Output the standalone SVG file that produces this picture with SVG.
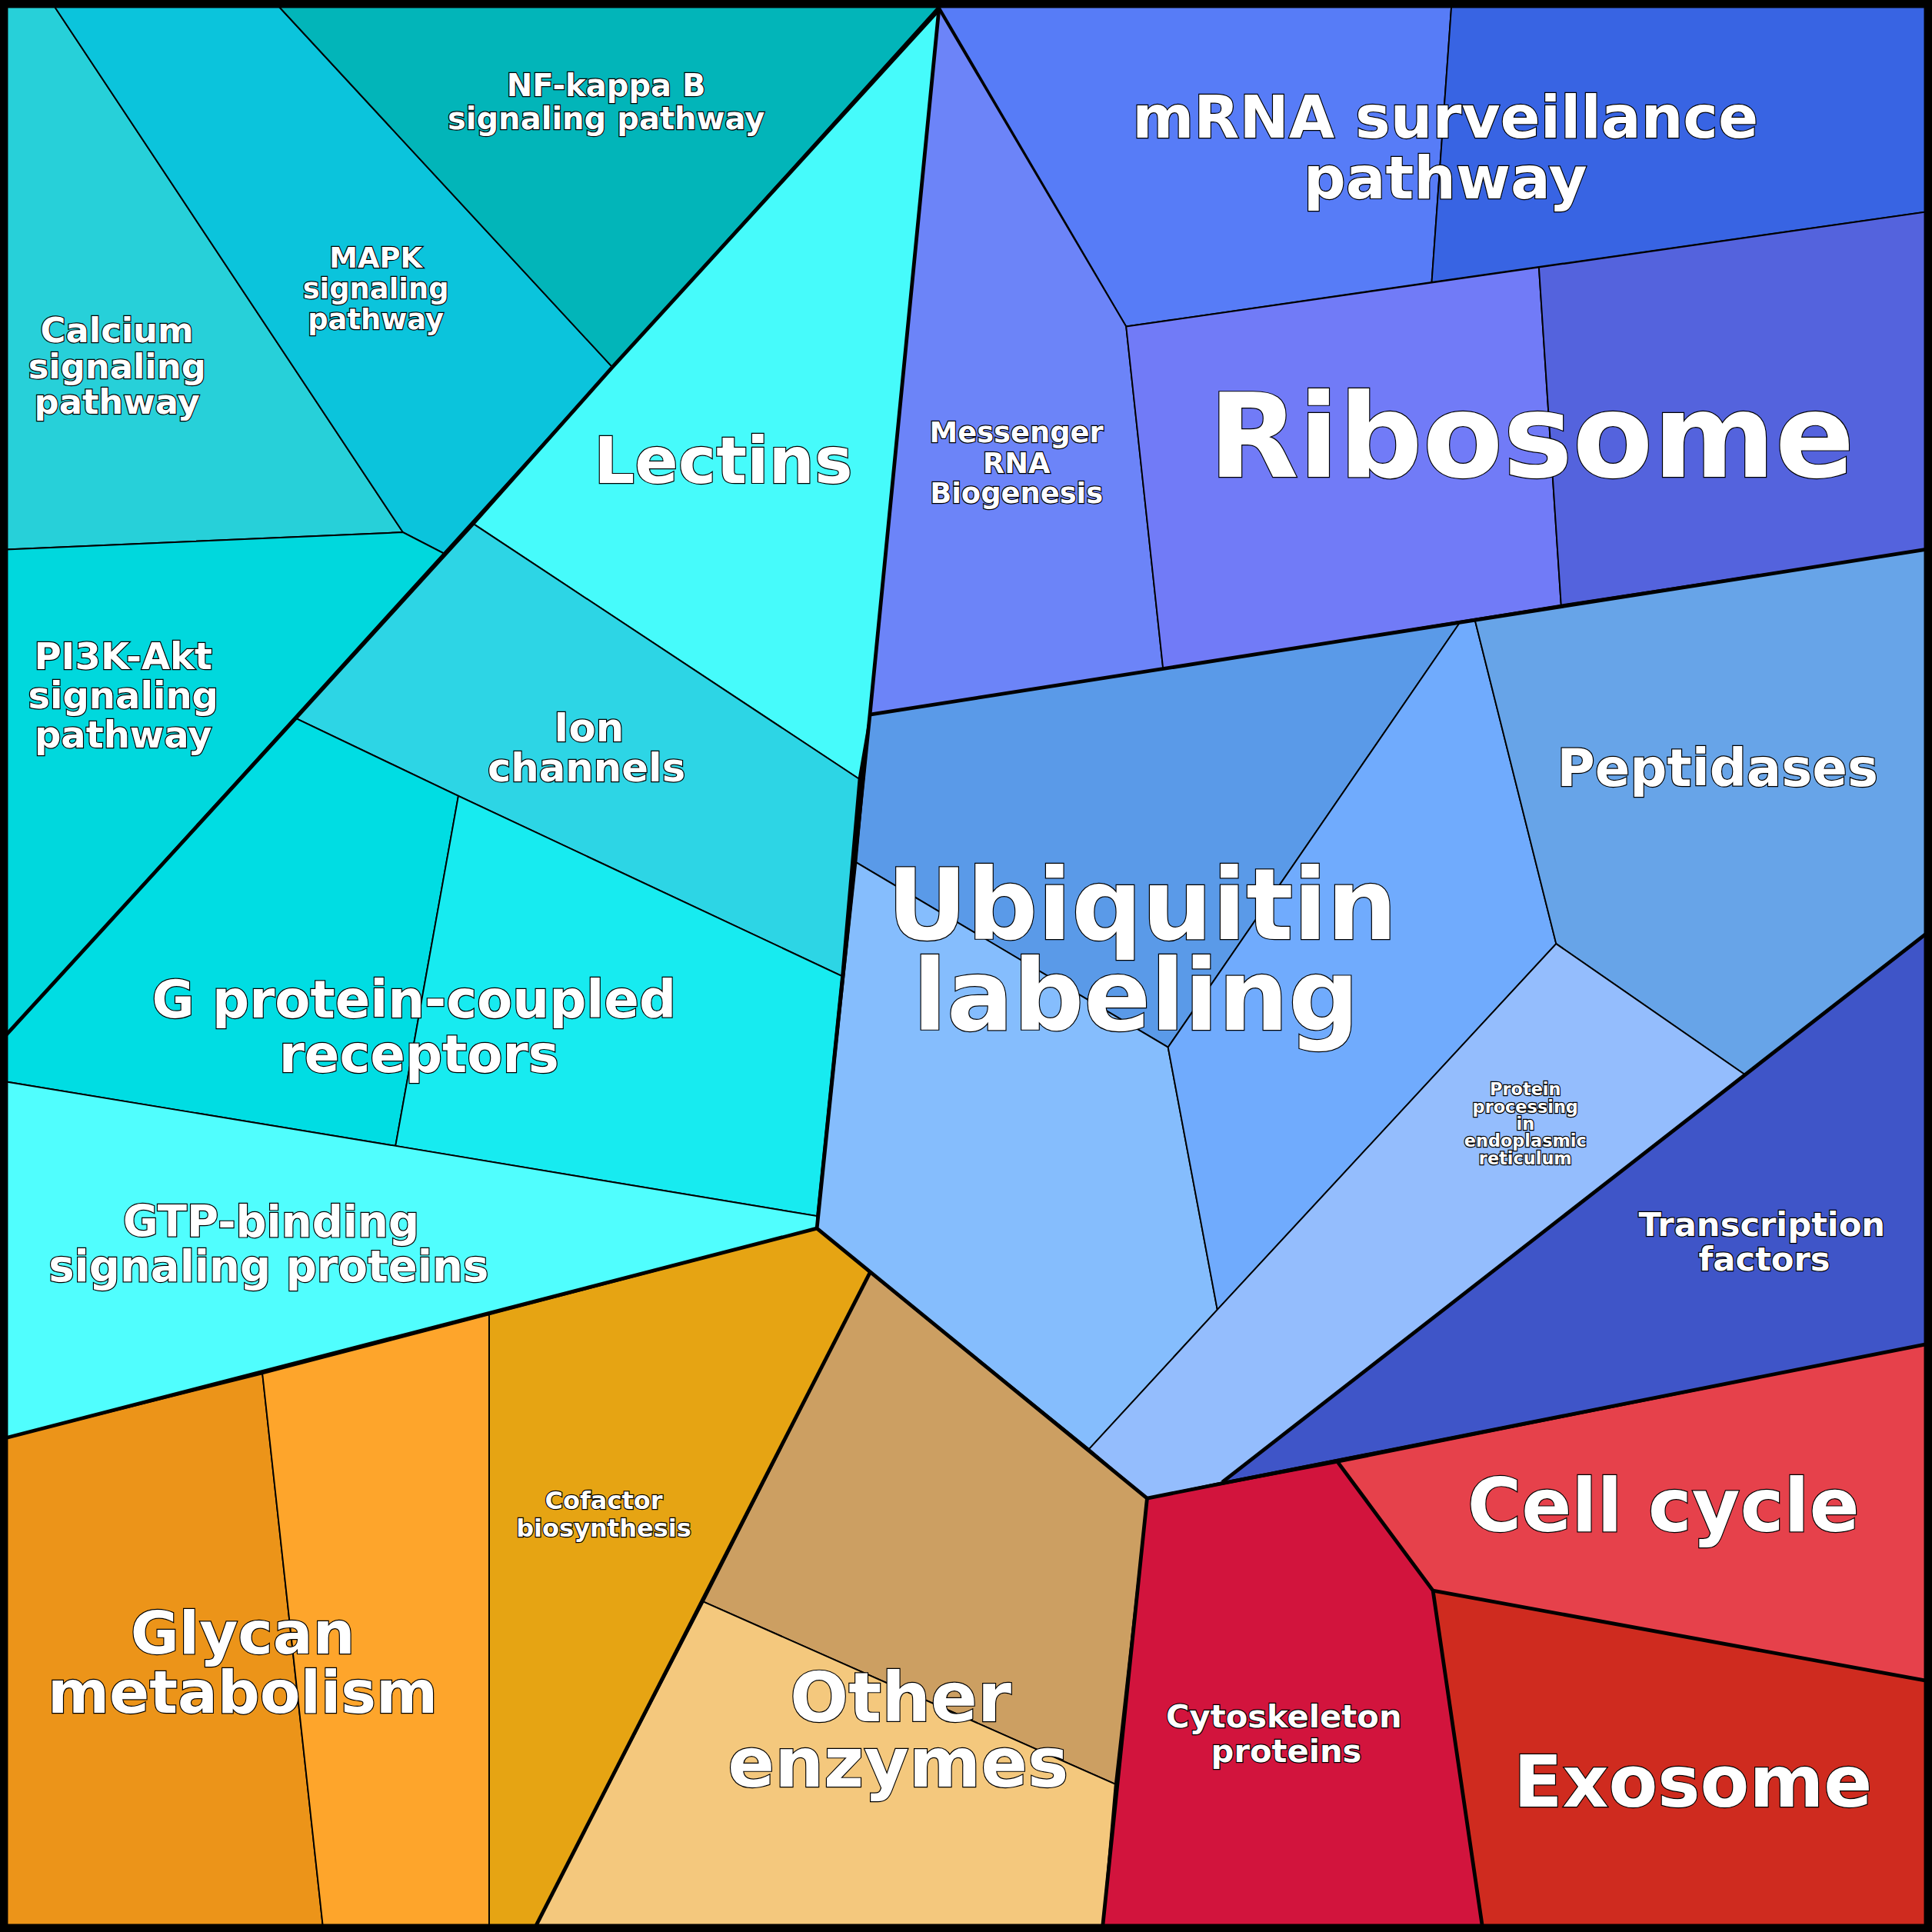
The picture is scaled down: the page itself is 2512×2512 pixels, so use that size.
<svg xmlns="http://www.w3.org/2000/svg" width="2512" height="2512" viewBox="0 0 2512 2512">
<style>
.c{stroke:#000;stroke-width:1.2}
.t{font-family:"DejaVu Sans",sans-serif;font-weight:bold;fill:#fff;stroke:#000;stroke-width:1.5;paint-order:stroke;text-anchor:middle}
.b{fill:none;stroke:#000;stroke-width:3;stroke-linejoin:round}
</style>
<rect width="2512" height="2512" fill="#000"/>
<g transform="scale(1.602)">
<g id="calcium"><polygon class="c" fill="#27d0d9" points="5,5 44,5 327,432 5,446"/><text class="t" font-size="28" x="95" y="278">Calcium</text><text class="t" font-size="28" x="95" y="307">signaling</text><text class="t" font-size="28" x="95" y="336">pathway</text></g>
<g id="mapk"><polygon class="c" fill="#0bc4dc" points="44,5 226,5 497,298 360,449 327,432"/><text class="t" font-size="23" x="305" y="217">MAPK</text><text class="t" font-size="23" x="305" y="242">signaling</text><text class="t" font-size="23" x="305" y="267">pathway</text></g>
<g id="nfkb"><polygon class="c" fill="#02b5b9" points="226,5 762,5 497,298"/><text class="t" font-size="25" x="492" y="78">NF-kappa B</text><text class="t" font-size="25" x="492" y="105">signaling pathway</text></g>
<g id="pi3k"><polygon class="c" fill="#00d8dd" points="5,446 327,432 360,449 5,840"/><text class="t" font-size="30" x="100" y="543">PI3K-Akt</text><text class="t" font-size="30" x="100" y="575">signaling</text><text class="t" font-size="30" x="100" y="607">pathway</text></g>
<g id="lectins"><polygon class="c" fill="#46fbfb" points="762,8 706,580 697,632 384,425 497,298"/><text class="t" font-size="52" x="587" y="392">Lectins</text></g>
<g id="ion"><polygon class="c" fill="#2dd5e5" points="384,425 697,632 683,792 372,646 240,583"/><text class="t" font-size="32" x="478" y="602">Ion</text><text class="t" font-size="32" x="476" y="634">channels</text></g>
<g id="gpcr"><polygon class="c" fill="#00dde3" points="240,583 372,646 321,930 5,878 5,840"/><polygon class="c" fill="#17ebf0" points="372,646 683,792 663,987 321,930"/><text class="t" font-size="42" x="336" y="826">G protein-coupled</text><text class="t" font-size="42" x="340" y="870">receptors</text></g>
<g id="gtp"><polygon class="c" fill="#50fefe" points="5,878 321,930 663,987 663,997 5,1167"/><text class="t" font-size="35" x="220" y="1004">GTP-binding</text><text class="t" font-size="35" x="218" y="1040">signaling proteins</text></g>
<g id="glycan"><polygon class="c" fill="#ec9419" points="5,1167 213,1115 262,1563 5,1563"/><polygon class="c" fill="#fea52b" points="213,1115 397,1067 397,1563 262,1563"/><text class="t" font-size="48" x="197" y="1342">Glycan</text><text class="t" font-size="48" x="197" y="1390">metabolism</text></g>
<g id="cofactor"><polygon class="c" fill="#e6a413" points="397,1067 663,997 706,1033 435,1563 397,1563"/><text class="t" font-size="20" x="490" y="1225">Cofactor</text><text class="t" font-size="20" x="490" y="1247">biosynthesis</text></g>
<g id="other"><polygon class="c" fill="#cc9f62" points="706,1033 931,1216 905,1448 571,1300"/><polygon class="c" fill="#f4c87d" points="571,1300 905,1448 895,1563 435,1563"/><text class="t" font-size="56" x="731" y="1397">Other</text><text class="t" font-size="56" x="729" y="1450">enzymes</text></g>
<g id="cyto"><polygon class="c" fill="#d2143d" points="931,1216 1086,1187 1163,1291 1203,1563 895,1563"/><text class="t" font-size="26" x="1042" y="1402">Cytoskeleton</text><text class="t" font-size="26" x="1044" y="1430">proteins</text></g>
<g id="cellcycle"><polygon class="c" fill="#e6414b" points="1086,1187 1563,1091 1563,1364 1163,1291"/><text class="t" font-size="60" x="1350" y="1243">Cell cycle</text></g>
<g id="exosome"><polygon class="c" fill="#cf2b1f" points="1163,1291 1563,1364 1563,1563 1203,1563"/><text class="t" font-size="58" x="1374" y="1466">Exosome</text></g>
<g id="mrna"><polygon class="c" fill="#577cf7" points="762,5 1178,5 1162,229 914,265"/><polygon class="c" fill="#3864e3" points="1178,5 1563,5 1563,172 1162,229"/><text class="t" font-size="48" x="1173" y="112">mRNA surveillance</text><text class="t" font-size="48" x="1173" y="161">pathway</text></g>
<g id="messenger"><polygon class="c" fill="#6c84f8" points="762,8 914,265 944,543 706,580"/><text class="t" font-size="23" x="825" y="359">Messenger</text><text class="t" font-size="23" x="825" y="384">RNA</text><text class="t" font-size="23" x="825" y="408">Biogenesis</text></g>
<g id="ribosome"><polygon class="c" fill="#717bf7" points="914,265 1249,217 1267,491 944,543"/><polygon class="c" fill="#5463dd" points="1249,217 1563,172 1563,446 1267,491"/><text class="t" font-size="95" x="1243" y="387">Ribosome</text></g>
<g id="ubiquitin"><polygon class="c" fill="#5a9ae8" points="706,580 1185,505 948,850 695,700"/><polygon class="c" fill="#85bdfd" points="695,700 948,850 988,1063 884,1176 663,997"/><polygon class="c" fill="#70abfd" points="1185,505 1197,503 1263,766 988,1063 948,850"/><text class="t" font-size="80" x="927" y="762">Ubiquitin</text><text class="t" font-size="80" x="922" y="836">labeling</text></g>
<g id="peptidases"><polygon class="c" fill="#67a4e8" points="1197,503 1563,446 1563,758 1416,872 1263,766"/><text class="t" font-size="42" x="1394" y="638">Peptidases</text></g>
<g id="protein"><polygon class="c" fill="#94bdfd" points="1263,766 1416,872 992,1203 931,1216 884,1176 988,1063"/><text class="t" font-size="14" x="1238" y="889">Protein</text><text class="t" font-size="14" x="1238" y="903">processing</text><text class="t" font-size="14" x="1238" y="917">in</text><text class="t" font-size="14" x="1238" y="931">endoplasmic</text><text class="t" font-size="14" x="1238" y="945">reticulum</text></g>
<g id="tf"><polygon class="c" fill="#3f55c8" points="1416,872 1563,758 1563,1091 992,1203"/><text class="t" font-size="27" x="1430" y="1003">Transcription</text><text class="t" font-size="27" x="1432" y="1031">factors</text></g>
<g id="connectors">
<polyline class="b" points="762,8 706,580 663,997 931,1216 895,1563"/>
<polyline class="b" points="762,8 497,298 384,425 240,583 5,840"/>
<polyline class="b" points="663,997 5,1167"/>
<polyline class="b" points="706,1033 435,1563"/>
<polyline class="b" points="931,1216 1563,1091"/>
<polyline class="b" points="706,580 1563,446"/>
<polyline class="b" points="992,1203 1563,758"/>
<polyline class="b" points="1086,1187 1163,1291 1203,1563"/>
<polyline class="b" points="1163,1291 1563,1364"/>
<rect x="3" y="3" width="1562" height="1562" fill="none" stroke="#000" stroke-width="7"/>
</g>
</g>
</svg>
